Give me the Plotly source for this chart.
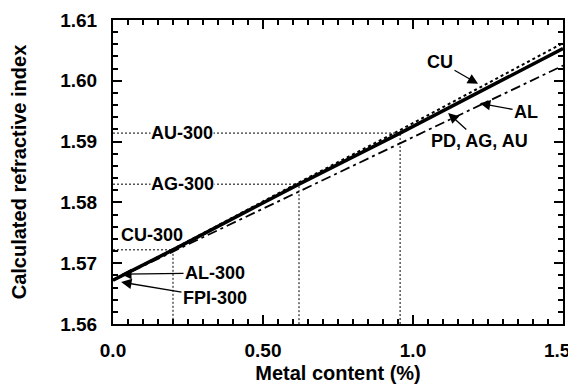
import plotly.graph_objects as go

# Data
metal = [0.0, 0.2, 0.62, 0.957, 1.5]
pd_ag_au = [1.5672, 1.5722, 1.5830, 1.5914, 1.6053]
cu = [1.5672, 1.5723, 1.5833, 1.5919, 1.6062]
al = [1.5672, 1.5719, 1.5818, 1.5897, 1.6025]

# Sample markers (metal content, refractive index)
sample_names = ["CU-300", "AG-300", "AU-300"]
sample_x = [0.2, 0.62, 0.957]
sample_y = [1.5722, 1.5830, 1.5914]

x_tickvals = [0.0, 0.5, 1.0, 1.5]
x_ticktext = ["0.0", "0.50", "1.0", "1.5"]
y_tickvals = [1.56, 1.57, 1.58, 1.59, 1.60, 1.61]
y_ticktext = ["1.56", "1.57", "1.58", "1.59", "1.60", "1.61"]

FONT = "Liberation Sans, Arial, Helvetica, sans-serif"

fig = go.Figure()

# dotted guide lines for samples
for sx, sy in zip(sample_x, sample_y):
    fig.add_trace(go.Scatter(x=[0, sx, sx], y=[sy, sy, 1.56], mode="lines",
                             line=dict(color="black", width=1, dash="2px,2px"),
                             showlegend=False, hoverinfo="skip"))

fig.add_trace(go.Scatter(x=metal, y=al, mode="lines",
                         line=dict(color="black", width=1.8, dash="10px,4px,3px,4px"),
                         showlegend=False))
fig.add_trace(go.Scatter(x=metal, y=cu, mode="lines",
                         line=dict(color="black", width=2, dash="3px,3px"),
                         showlegend=False))
fig.add_trace(go.Scatter(x=metal, y=pd_ag_au, mode="lines",
                         line=dict(color="black", width=3.5),
                         showlegend=False))

tf = dict(family=FONT, size=18, color="black", weight="bold")
tickfont = dict(family=FONT, size=19, color="black", weight="bold")

annotations = [
    dict(x=0.23, y=sample_y[2], text="AU-300", showarrow=False, bgcolor="white", font=tf, borderpad=0),
    dict(x=0.233, y=sample_y[1], text="AG-300", showarrow=False, bgcolor="white", font=tf, borderpad=0),
    dict(x=0.02, y=1.5746, text="CU-300", showarrow=False, xanchor="left", font=tf),
    # last x tick label, kept inside the page like the reference
    dict(x=x_tickvals[-1], xref="x", y=0, yref="paper", text=x_ticktext[-1],
         showarrow=False, xanchor="right", yanchor="middle", xshift=10, yshift=-26,
         font=tickfont),
]

arrows = [
    ("AL-300", 0.027, 1.5682, 0.34, 1.5684),
    ("FPI-300", 0.027, 1.5669, 0.34, 1.5643),
    ("CU", 1.217, 1.5995, 1.09, 1.6031),
    ("AL", 1.223, 1.5963, 1.377, 1.5949),
    ("PD, AG, AU", 1.117, 1.5947, 1.22, 1.5901),
]
for txt, tx, ty, lx, ly in arrows:
    annotations.append(dict(x=tx, y=ty, ax=lx, ay=ly, axref="x", ayref="y",
                            text=txt, showarrow=True, arrowhead=2, arrowsize=1.6,
                            arrowwidth=1.3, arrowcolor="black", font=tf, standoff=0))

axis_common = dict(showline=True, linecolor="black", linewidth=2, mirror="allticks",
                   ticks="inside", tickcolor="black", tickwidth=1.5, ticklen=9,
                   showgrid=False, zeroline=False, automargin=False,
                   tickfont=tickfont)
xminor = dict(dtick=0.05, tick0=0, ticks="inside", ticklen=5, tickwidth=1.5, tickcolor="black")
yminor = dict(dtick=0.002, tick0=1.56, ticks="inside", ticklen=5, tickwidth=1.5, tickcolor="black")

# page body has an 8px default margin, so the figure is 8px smaller
fig.update_layout(
    width=568, height=377,
    margin=dict(l=105, r=13, t=12, b=61),
    paper_bgcolor="white", plot_bgcolor="white",
    annotations=annotations,
    xaxis=dict(range=[0, 1.5], tickmode="array", tickvals=x_tickvals,
               ticktext=x_ticktext[:-1] + [""],
               minor=xminor, ticklabelstandoff=8,
               title=dict(text="Metal content (%)", standoff=6,
                          font=dict(family=FONT, size=20, color="black", weight="bold")),
               **axis_common),
    yaxis=dict(range=[1.56, 1.61], tickmode="array", tickvals=y_tickvals, ticktext=y_ticktext,
               minor=yminor, ticklabelstandoff=10,
               title=dict(text="Calculated refractive index", standoff=30,
                          font=dict(family=FONT, size=20, color="black", weight="bold")),
               **axis_common),
    # top and right tick marks
    xaxis2=dict(overlaying="x", side="top", anchor="y", range=[0, 1.5], tickmode="array",
                tickvals=x_tickvals, showticklabels=False, ticks="inside", ticklen=9,
                tickwidth=1.5, tickcolor="black", minor=xminor, showgrid=False,
                zeroline=False, showline=False, automargin=False),
    yaxis2=dict(overlaying="y", side="right", anchor="x", range=[1.56, 1.61], tickmode="array",
                tickvals=y_tickvals, showticklabels=False, ticks="inside", ticklen=9,
                tickwidth=1.5, tickcolor="black", minor=yminor, showgrid=False,
                zeroline=False, showline=False, automargin=False),
)

fig.write_html("out.html")
